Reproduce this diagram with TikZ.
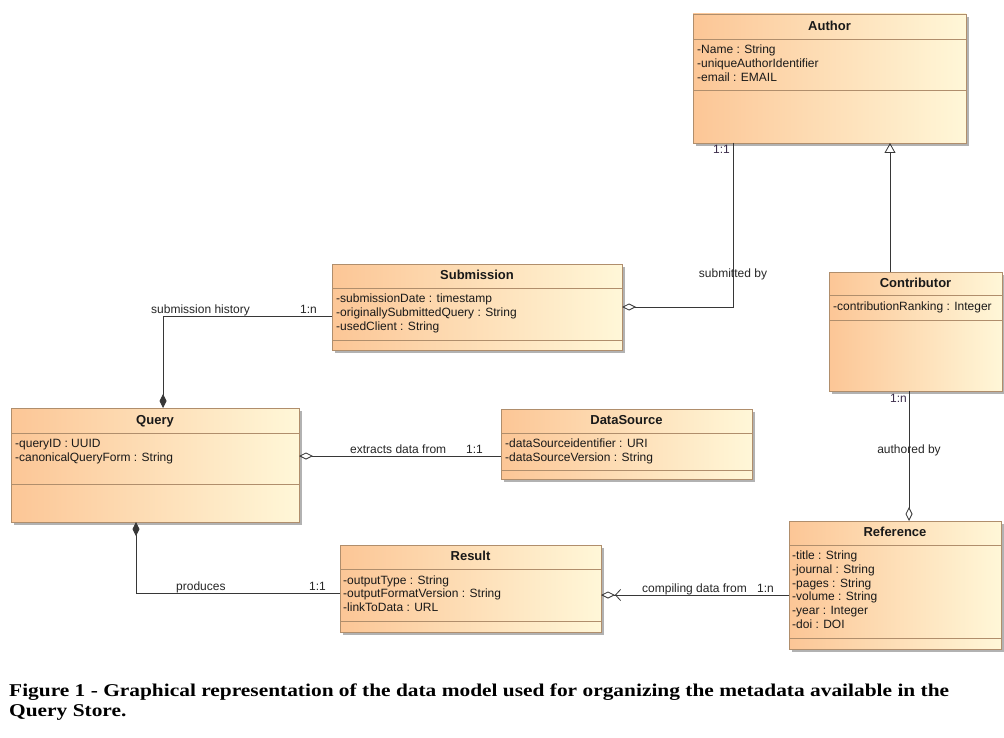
\documentclass[tikz,border=0pt]{standalone}
\usepackage{fontspec}
\usepackage{graphicx}
\usetikzlibrary{arrows.meta,shadows,calc}
\newfontfamily\umlfont{Liberation Sans}
\newfontfamily\capfont{Liberation Serif}
\definecolor{boxL}{RGB}{252,198,150}
\definecolor{boxR}{RGB}{255,247,216}
\definecolor{boxB}{RGB}{176,142,108}
\definecolor{linec}{RGB}{55,55,55}
\definecolor{multc}{RGB}{60,45,75}
\newsavebox\capboxA
\tikzset{
  umlbox/.style={draw=boxB, line width=0.9pt, left color=boxL, right color=boxR,
    drop shadow={shadow xshift=3pt, shadow yshift=-3pt, fill=black, opacity=0.3},
    anchor=north west, inner sep=0pt, outer sep=0pt},
  cline/.style={draw=boxB, line width=0.9pt},
  ttl/.style={font=\umlfont\bfseries\fontsize{13}{15}\selectfont, anchor=base, inner sep=0pt, text=black!90},
  attr/.style={font=\umlfont\fontsize{12}{14}\selectfont, anchor=base west, inner sep=0pt, text=black!90},
  lbl/.style={font=\umlfont\fontsize{12}{14}\selectfont, inner sep=0pt, text=black!85},
  conn/.style={draw=linec, line width=0.8pt},
  aggr/.style={conn, -{Diamond[open, length=14pt, width=7pt]}},
  comp/.style={conn, -{Diamond[fill=linec, length=14pt, width=7pt]}},
  gen/.style={conn, -{Triangle[open, length=10pt, width=11pt]}},
  compile/.style={conn, -{Straight Barb[length=5pt, width=11pt] Diamond[open, length=14pt, width=7pt]}},
}
% #1 name, #2 x1, #3 y1, #4 x2, #5 y2, #6 title line, #7 attribute line, #8 title
\newcommand\umlcls[8]{%
  \node[umlbox, minimum width={(#4-#2)*1pt}, minimum height={(#5-#3)*1pt}] (#1) at (#2,#3) {};
  \draw[cline] (#2,#6) -- (#4,#6);
  \draw[cline] (#2,#7) -- (#4,#7);
  \node[ttl] (#1-title) at ({(#2+#4)/2},{#3+(#6-#3)/2+3.8}) {#8};
}
\newcommand\umlattr[4]{\node[attr] (#1) at (#2,#3) {#4};}
\begin{document}
\sbox\capboxA{\capfont\bfseries\fontsize{18}{20}\selectfont Figure 1 - Graphical representation of the data model used for organizing the metadata available in the}%
\begin{tikzpicture}[x=1pt, y=-1pt]
\useasboundingbox (0,0) rectangle (1004,738);
\fill[white] (0,0) rectangle (1004,738);

% classes
\umlcls{author}{693}{14}{966}{143}{39}{90}{Author}
\umlattr{author-a1}{697}{53.3}{-Name : String}
\umlattr{author-a2}{697}{67.3}{-uniqueAuthorIdentifier}
\umlattr{author-a3}{697}{81.3}{-email : EMAIL}

\umlcls{submission}{332}{264}{622}{350}{288}{340}{Submission}
\umlattr{submission-a1}{336}{302.5}{-submissionDate : timestamp}
\umlattr{submission-a2}{336}{316.3}{-originallySubmittedQuery : String}
\umlattr{submission-a3}{336}{330.2}{-usedClient : String}

\umlcls{contributor}{829}{272}{1002}{391}{295}{320}{Contributor}
\umlattr{contributor-a1}{833}{310.5}{-contributionRanking : Integer}

\umlcls{query}{11}{408}{299}{522}{433}{484}{Query}
\umlattr{query-a1}{15}{447}{-queryID : UUID}
\umlattr{query-a2}{15}{461}{-canonicalQueryForm : String}

\umlcls{datasource}{501}{409}{752}{479}{433}{470}{DataSource}
\umlattr{datasource-a1}{505}{447.6}{-dataSourceidentifier : URI}
\umlattr{datasource-a2}{505}{461.3}{-dataSourceVersion : String}

\umlcls{result}{340}{545}{601}{632}{569}{621}{Result}
\umlattr{result-a1}{343}{584.3}{-outputType : String}
\umlattr{result-a2}{343}{597.6}{-outputFormatVersion : String}
\umlattr{result-a3}{343}{611}{-linkToData : URL}

\umlcls{reference}{789}{521}{1001}{649}{545}{638}{Reference}
\umlattr{reference-a1}{792}{559.6}{-title : String}
\umlattr{reference-a2}{792}{573.3}{-journal : String}
\umlattr{reference-a3}{792}{587.1}{-pages : String}
\umlattr{reference-a4}{792}{600.6}{-volume : String}
\umlattr{reference-a5}{792}{614.4}{-year : Integer}
\umlattr{reference-a6}{792}{628.1}{-doi : DOI}

% connectors
\coordinate (sb1) at ($(author.south west)+(40,0)$);
\draw[aggr] (sb1) |- (submission.east);

\coordinate (g1) at ($(contributor.north west)+(61,0)$);
\draw[gen] (g1) -- (g1 |- author.south);

\coordinate (sh1) at ($(submission.west)+(0,9)$);
\coordinate (sh2) at ($(query.north west)+(152,0)$);
\draw[comp] (sh1) -| (sh2);

\coordinate (ex1) at ($(query.north east)+(0,48)$);
\draw[aggr] (ex1 -| datasource.west) -- (ex1);

\coordinate (pr1) at ($(query.south west)+(125,0)$);
\coordinate (pr2) at ($(result.west)+(0,4.5)$);
\draw[comp] (pr2) -| (pr1);

\coordinate (cd1) at ($(reference.west)+(0,10)$);
\draw[compile] (cd1) -- (cd1 -| result.east);

\coordinate (ab1) at ($(contributor.south west)+(80,0)$);
\draw[aggr] (ab1) -- (ab1 |- reference.north);

% labels
\node[lbl, anchor=base east, text=multc] (m1) at (730,154) {1:1};
\node[lbl, anchor=base] (l1) at (733,277) {submitted by};
\node[lbl, anchor=base west] (l2) at (151,313) {submission history};
\node[lbl, anchor=base west] (m2) at (300,313) {1:n};
\node[lbl, anchor=base west] (l3) at (350,453) {extracts data from};
\node[lbl, anchor=base west] (m3) at (466,453) {1:1};
\node[lbl, anchor=base west] (l4) at (176,590) {produces};
\node[lbl, anchor=base west] (m4) at (309,590) {1:1};
\node[lbl, anchor=base west] (l5) at (642,592) {compiling data from};
\node[lbl, anchor=base west] (m5) at (757,592) {1:n};
\node[lbl, anchor=base east, text=multc] (m6) at (907,402) {1:n};
\node[lbl, anchor=base] (l6) at (909,453) {authored by};

% caption
\pgfmathsetmacro\capsx{940/\the\wd\capboxA}
\node[anchor=base west, inner sep=0pt] (cap1) at (9,696) {\scalebox{\capsx}[1]{\usebox\capboxA}};
\node[anchor=base west, inner sep=0pt] (cap2) at (9,716) {\scalebox{\capsx}[1]{\capfont\bfseries\fontsize{18}{20}\selectfont Query Store.}};
\end{tikzpicture}
\end{document}
